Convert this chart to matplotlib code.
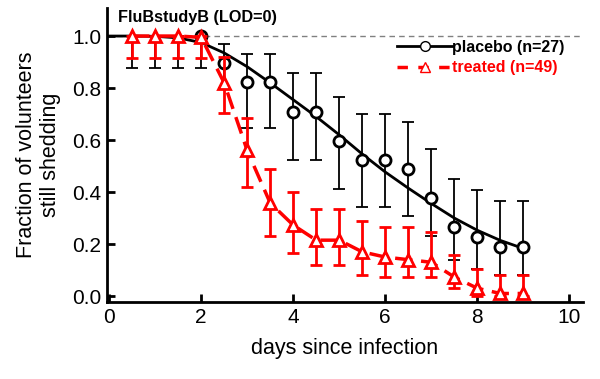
"""
Fraction of volunteers still shedding virus, placebo vs treated (FluBstudyB)
"""

import matplotlib.pyplot as plt

plt.rcParams['font.family'] = ['Liberation Sans', 'DejaVu Sans']

days = [0.5, 1.0, 1.5, 2.0, 2.5, 3.0, 3.5, 4.0, 4.5, 5.0, 5.5, 6.0, 6.5, 7.0, 7.5, 8.0, 8.5, 9.0]

placebo = [1.0, 1.0, 1.0, 1.0, 0.895, 0.822, 0.822, 0.708, 0.708, 0.597, 0.523, 0.523, 0.488, 0.377, 0.265, 0.227, 0.19, 0.188]
placebo_lo = [0.877, 0.877, 0.877, 0.877, 0.80, 0.646, 0.646, 0.523, 0.523, 0.41, 0.342, 0.342, 0.308, 0.23, 0.138, 0.104, 0.08, 0.08]
placebo_hi = [1.0, 1.0, 1.0, 1.0, 0.97, 0.93, 0.93, 0.856, 0.856, 0.765, 0.70, 0.70, 0.67, 0.565, 0.45, 0.408, 0.365, 0.365]

treated = [1.0, 1.0, 1.0, 0.995, 0.82, 0.56, 0.358, 0.273, 0.215, 0.215, 0.17, 0.15, 0.14, 0.13, 0.073, 0.03, 0.01, 0.01]
treated_lo = [0.915, 0.915, 0.915, 0.915, 0.705, 0.42, 0.23, 0.165, 0.12, 0.12, 0.08, 0.073, 0.073, 0.073, 0.03, 0.0, 0.0, 0.0]
treated_hi = [1.0, 1.0, 1.0, 1.0, 0.92, 0.685, 0.49, 0.40, 0.335, 0.335, 0.29, 0.265, 0.265, 0.246, 0.158, 0.104, 0.08, 0.08]

# fitted curve for placebo
fit_x = [0.0, 0.5, 1.0, 1.5, 2.0, 2.5, 3.0, 3.5, 4.0, 4.5, 5.0, 5.5, 6.0, 6.5, 7.0, 7.5, 8.0, 8.5, 9.0]
fit_y = [1.0, 1.0, 0.999, 0.993, 0.975, 0.935, 0.882, 0.82, 0.755, 0.69, 0.62, 0.546, 0.477, 0.415, 0.356, 0.30, 0.253, 0.214, 0.183]

fig = plt.figure(figsize=(6, 3.79), dpi=100)
ax = fig.add_axes([0.178, 0.203, 0.794, 0.776])

ax.axhline(1.0, color='gray', ls=(0, (4, 3)), lw=1, zorder=1)

p_err = [[p - lo for p, lo in zip(placebo, placebo_lo)], [hi - p for p, hi in zip(placebo, placebo_hi)]]
t_err = [[t - lo for t, lo in zip(treated, treated_lo)], [hi - t for t, hi in zip(treated, treated_hi)]]

ax.errorbar(days, placebo, yerr=p_err, fmt='none', ecolor='black', elinewidth=1.3, capsize=4, capthick=1.3, zorder=2)
ax.plot(fit_x, fit_y, color='black', lw=2, zorder=3)
ax.plot(days[3:], placebo[3:], 'o', mfc='white', mec='black', mew=2, ms=8, zorder=4)

ax.errorbar(days, treated, yerr=t_err, fmt='none', ecolor='red', elinewidth=2, capsize=4, capthick=2, zorder=5)
ax.plot(days, treated, color='red', lw=2.5, ls=(0, (5, 2.5)), zorder=6)
ax.plot(days, treated, '^', mfc='white', mec='red', mew=2, ms=8, zorder=7)

# legend entries
h1, = ax.plot([], [], color='black', lw=2, marker='o', mfc='white', mec='black', mew=1, ms=7)
h2, = ax.plot([], [], color='red', lw=2.5, ls=(0, (3, 3)), marker='^', mfc='white', mec='red', mew=1, ms=7)
leg = ax.legend([h1, h2], ['placebo (n=27)', 'treated (n=49)'], loc='upper right',
                bbox_to_anchor=(0.985, 0.93), frameon=False, handlelength=3.4, handletextpad=0.05,
                labelspacing=0.35, borderpad=0.2, prop={'weight': 'bold', 'size': 11.5})
leg.get_texts()[1].set_color('red')

ax.text(0.2, 1.073, 'FluBstudyB (LOD=0)', fontsize=11.7, fontweight='bold', va='center')

ax.set_xlim(-0.05, 10.3)
ax.set_ylim(-0.023, 1.108)
ax.set_xticks([0, 2, 4, 6, 8, 10])
ax.set_yticks([0.0, 0.2, 0.4, 0.6, 0.8, 1.0])
ax.set_yticklabels(['0.0', '0.2', '0.4', '0.6', '0.8', '1.0'])

for s in ['top', 'right']:
    ax.spines[s].set_visible(False)
for s in ['left', 'bottom']:
    ax.spines[s].set_linewidth(2)
ax.tick_params(direction='in', length=6, width=2, labelsize=15, pad=4)

ax.set_xlabel('days since infection', fontsize=15.5, labelpad=8)
ax.set_ylabel('Fraction of volunteers\nstill shedding', fontsize=15.5, labelpad=8)

plt.savefig('out.png')
